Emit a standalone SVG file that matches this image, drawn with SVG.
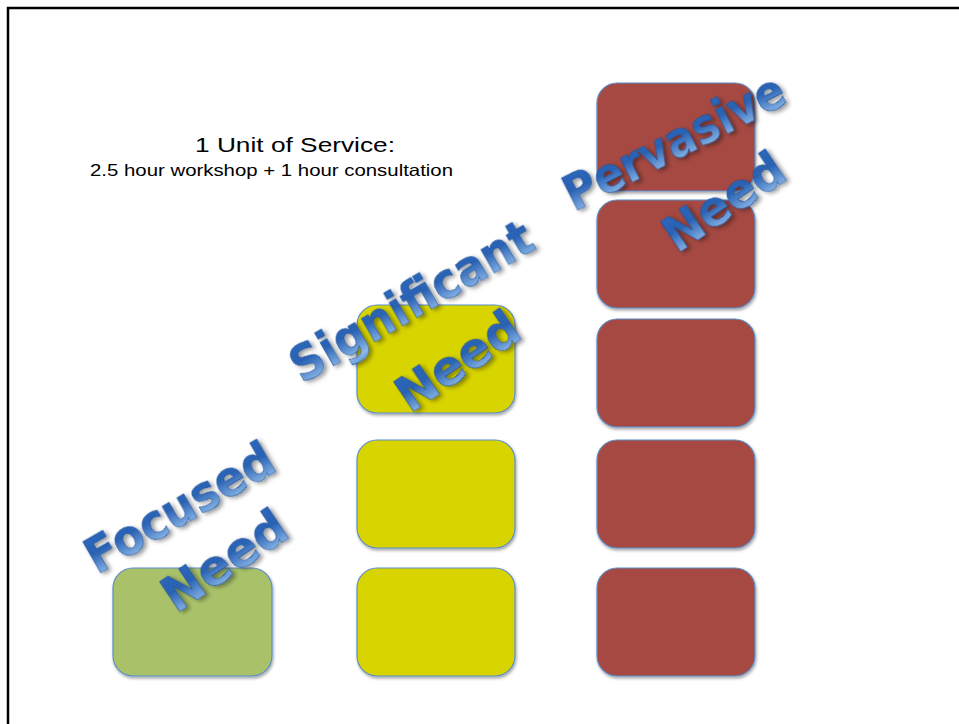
<svg xmlns="http://www.w3.org/2000/svg" width="959" height="724" viewBox="0 0 959 724">
<defs>
<filter id="bs" x="-10%" y="-10%" width="130%" height="130%"><feDropShadow dx="1" dy="2" stdDeviation="1.5" flood-color="#000" flood-opacity="0.35"/></filter>
<filter id="ts" x="-10%" y="-20%" width="130%" height="150%"><feDropShadow dx="2" dy="3" stdDeviation="2" flood-color="#000" flood-opacity="0.4"/></filter>
<linearGradient id="tg" x1="0" y1="0" x2="0" y2="1">
<stop offset="0" stop-color="#2A68BE"/>
<stop offset="0.45" stop-color="#2A62B3"/>
<stop offset="0.85" stop-color="#8DB9EA"/>
<stop offset="1" stop-color="#5A8FD0"/>
</linearGradient>
</defs>
<style>
.box{stroke:#5B8DC9;stroke-width:1.2;filter:url(#bs)}
.g{fill:#A9C26A}.y{fill:#D8D400}.r{fill:#A54A43}
.wa{font-family:"DejaVu Sans",Verdana,sans-serif;font-weight:bold;font-size:50px;fill:url(#tg);stroke:#1D4E94;stroke-width:0.6;filter:url(#ts)}
.t{font-family:"Liberation Sans",Arial,sans-serif;fill:#000}
</style>
<rect x="0" y="0" width="959" height="724" fill="#fff"/>
<path d="M8,724 V8 H959" fill="none" stroke="#000" stroke-width="2.5"/>
<g id="title">
<text class="t" x="295" y="152" font-size="21" text-anchor="middle" textLength="200" lengthAdjust="spacingAndGlyphs">1 Unit of Service:</text>
<text class="t" x="90" y="176" font-size="16.5" textLength="363" lengthAdjust="spacingAndGlyphs">2.5 hour workshop  + 1 hour consultation</text>
</g>
<g id="box-focused-1"><rect class="box g" x="113" y="568" width="159" height="108" rx="20"/></g>
<g id="box-significant-1"><rect class="box y" x="357" y="568" width="158" height="108" rx="20"/></g>
<g id="box-significant-2"><rect class="box y" x="357" y="440" width="158" height="108" rx="20"/></g>
<g id="box-significant-3"><rect class="box y" x="357" y="305" width="158" height="108" rx="20"/></g>
<g id="box-pervasive-1"><rect class="box r" x="597" y="568" width="158" height="108" rx="20"/></g>
<g id="box-pervasive-2"><rect class="box r" x="597" y="440" width="158" height="108" rx="20"/></g>
<g id="box-pervasive-3"><rect class="box r" x="597" y="319" width="158" height="108" rx="20"/></g>
<g id="box-pervasive-4"><rect class="box r" x="597" y="200" width="158" height="108" rx="20"/></g>
<g id="box-pervasive-5"><rect class="box r" x="597" y="83" width="158" height="108" rx="20"/></g>
<g id="label-focused">
<text class="wa" transform="translate(97,575) rotate(-30)" textLength="210" lengthAdjust="spacingAndGlyphs">Focused</text>
<text class="wa" transform="translate(176,614) rotate(-34)" textLength="140" lengthAdjust="spacingAndGlyphs">Need</text>
</g>
<g id="label-significant">
<text class="wa" transform="translate(302,384) rotate(-30)" textLength="272" lengthAdjust="spacingAndGlyphs">Significant</text>
<text class="wa" transform="translate(410,414) rotate(-34)" textLength="138" lengthAdjust="spacingAndGlyphs">Need</text>
</g>
<g id="label-pervasive">
<text class="wa" transform="translate(574,212) rotate(-27)" textLength="242" lengthAdjust="spacingAndGlyphs">Pervasive</text>
<text class="wa" transform="translate(677,254) rotate(-34)" textLength="136" lengthAdjust="spacingAndGlyphs">Need</text>
</g>
</svg>
